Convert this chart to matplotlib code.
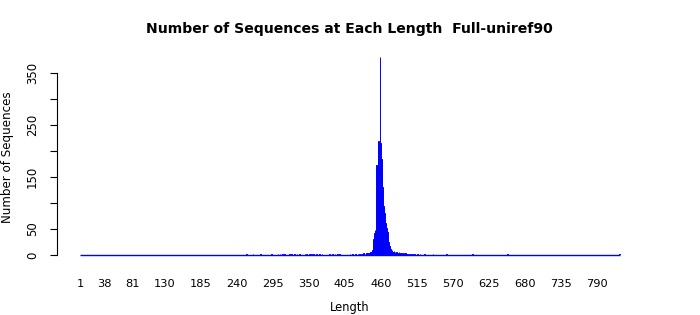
import matplotlib
matplotlib.use("Agg")
import matplotlib.pyplot as plt

# ---- data ----
max_length = 825
lengths = list(range(1, max_length + 1))

# non-zero counts by sequence length (all other lengths are 0)
sparse_lengths = [255, 265, 276, 293, 303, 306, 310, 313, 321, 324, 328, 332, 336,
                  344, 347, 351, 354, 357, 362, 366, 370, 382, 386, 390, 394, 397,
                  413, 417, 421, 425, 428, 431, 434, 436, 438, 439]
sparse_counts = [1, 1, 2, 1, 2, 1, 2, 1, 1, 2, 1, 2, 1,
                 2, 1, 1, 2, 1, 1, 2, 1, 1, 2, 1, 1, 2,
                 1, 2, 1, 2, 1, 2, 3, 2, 3, 2]

peak_lengths = list(range(440, 501))
peak_counts = [3, 2, 4, 3, 5, 6, 4, 10, 8, 30,
               42, 48, 45, 172, 165, 130, 215, 218, 120, 380,
               215, 185, 160, 130, 95, 90, 80, 62, 48, 52,
               45, 30, 25, 18, 14, 12, 8, 10, 6, 5,
               8, 4, 6, 3, 5, 4, 2, 3, 5, 2,
               4, 2, 3, 1, 2, 4, 2, 1, 3, 2, 1]

tail_lengths = [502, 505, 508, 512, 516, 520, 527, 540, 560, 600, 654, 825]
tail_counts = [2, 1, 2, 1, 2, 1, 1, 1, 1, 1, 2, 1]

x_tick_labels = [1, 38, 81, 130, 185, 240, 295, 350, 405, 460, 515, 570, 625, 680, 735, 790]
y_ticks = [0, 50, 100, 150, 200, 250, 300, 350]
y_tick_labels = ["0", "50", "", "150", "", "250", "", "350"]

title = "Number of Sequences at Each Length  Full-uniref90"
x_label = "Length"
y_label = "Number of Sequences"

# ---- build full count series ----
counts = {L: 0 for L in lengths}
for Ls, Cs in ((sparse_lengths, sparse_counts), (peak_lengths, peak_counts),
               (tail_lengths, tail_counts)):
    for L, c in zip(Ls, Cs):
        counts[L] = c
heights = [counts[L] for L in lengths]

# ---- figure ----
W, H = 700, 315
fig = plt.figure(figsize=(W / 100, H / 100), dpi=100)
ax_left, ax_right = 57, 643
ax_bottom, ax_top = 255, 57
ax = fig.add_axes([ax_left / W, (H - ax_bottom) / H,
                   (ax_right - ax_left) / W, (ax_bottom - ax_top) / H])

blue = "#0000FF"
ax.bar(lengths, heights, width=1.0, color=blue, edgecolor=blue, linewidth=0.7)
ax.plot([0.5, max_length + 0.5], [0, 0], color=blue, linewidth=1.0, clip_on=False,
        solid_capstyle="butt")

px_per_unit = (620 - 80) / max_length
pad = (80 - ax_left) / px_per_unit
ax.set_xlim(0.5 - pad, max_length + 0.5 + pad)
ax.set_ylim(0, 380)

for s in ("top", "right", "bottom"):
    ax.spines[s].set_visible(False)
ax.spines["left"].set_bounds(0, 350)
ax.spines["left"].set_linewidth(0.8)

ax.set_yticks(y_ticks)
ax.set_yticklabels(y_tick_labels, rotation=90, va="center", fontsize=8.5)
ax.tick_params(axis="y", length=5, width=0.8, pad=8)

ax.set_xticks(x_tick_labels)
ax.set_xticklabels([str(v) for v in x_tick_labels], fontsize=8.2)
ax.tick_params(axis="x", length=0, pad=17)

fig.text(349 / W, 1 - 29 / H, title, ha="center", va="center",
         fontsize=10.1, fontweight="bold")
fig.text(350 / W, 1 - 307 / H, x_label, ha="center", va="center", fontsize=8.3)
fig.text(8 / W, 1 - 157 / H, y_label, ha="center", va="center", rotation=90, fontsize=8.6)

fig.savefig("out.png", dpi=100)
